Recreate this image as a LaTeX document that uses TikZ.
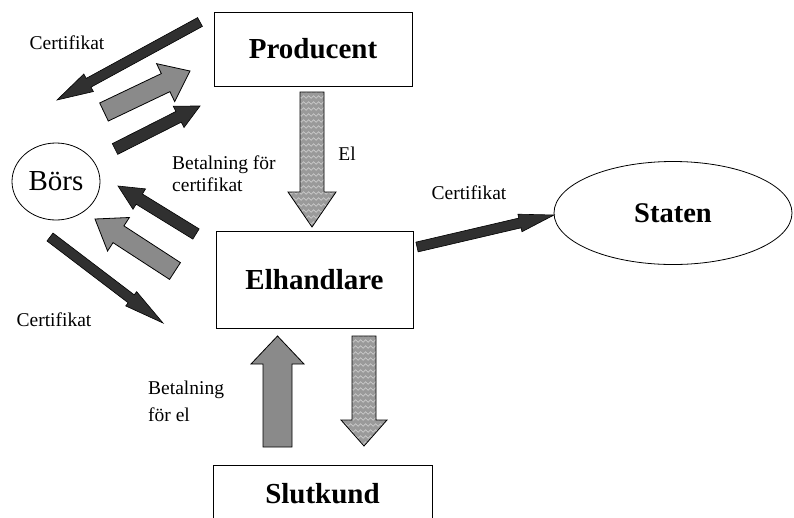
\documentclass[tikz,border=0pt]{standalone}
\usepackage{fontspec}
\setmainfont{Liberation Serif}
\usetikzlibrary{calc,decorations.pathmorphing,shapes.geometric}

\definecolor{darkarr}{HTML}{303030}
\definecolor{grayarr}{HTML}{8A8A8A}
\definecolor{wavebase}{HTML}{9A9A9A}
\definecolor{waveline}{HTML}{CACACA}

\tikzset{
  box/.style={draw, line width=1pt, rectangle, inner sep=0pt, font=\fontsize{29}{32}\selectfont\bfseries},
  ell/.style={draw, line width=0.8pt, ellipse, inner sep=0pt},
  lbl/.style={font=\fontsize{19.5}{22}\selectfont, inner sep=0pt, align=left},
  blackarr/.style={fill=darkarr, draw=black, line width=0.6pt},
  grayarr/.style={fill=grayarr, draw=black, line width=0.8pt},
  waveline/.style={draw=waveline, line width=0.7pt, decorate, decoration={snake, amplitude=1.3pt, segment length=5pt}},
}

% #1 style, #2 tail, #3 tip, #4 shaft half width, #5 head half width, #6 head length, #7 name of head base
\newcommand\blockarr[7]{%
  \coordinate (#7) at ($(#3)!#6!(#2)$);
  \path[#1] ($(#2)!#4!90:(#3)$) -- ($(#7)!#4!90:(#3)$) -- ($(#7)!#5!90:(#3)$) -- (#3)
    -- ($(#7)!#5!-90:(#3)$) -- ($(#7)!#4!-90:(#3)$) -- ($(#2)!#4!-90:(#3)$) -- cycle;
}
% wavy filled arrow: #1 tail, #2 tip, #3 shaft half, #4 head half, #5 head length, #6 name
\newcommand\wavearr[6]{%
  \coordinate (#6) at ($(#2)!#5!(#1)$);
  \begin{scope}
    \clip ($(#1)!#3!90:(#2)$) -- ($(#6)!#3!90:(#2)$) -- ($(#6)!#4!90:(#2)$) -- (#2)
      -- ($(#6)!#4!-90:(#2)$) -- ($(#6)!#3!-90:(#2)$) -- ($(#1)!#3!-90:(#2)$) -- cycle;
    \fill[wavebase] ($(#1)+(-40,-10)$) rectangle ($(#2)+(40,10)$);
    \foreach \k in {0,...,24}
      \draw[waveline] ($(#1)+(-40,\k*6-1)$) -- ($(#1)+(40,\k*6-1)$);
  \end{scope}
  \draw[line width=0.8pt] ($(#1)!#3!90:(#2)$) -- ($(#6)!#3!90:(#2)$) -- ($(#6)!#4!90:(#2)$) -- (#2)
      -- ($(#6)!#4!-90:(#2)$) -- ($(#6)!#3!-90:(#2)$) -- ($(#1)!#3!-90:(#2)$) -- cycle;
}

\begin{document}
\begin{tikzpicture}[x=1pt, y=-1pt]
\clip (0,0) rectangle (794,517);
\fill[white] (0,0) rectangle (794,517);

% nodes
\node[box, minimum width=198pt, minimum height=74pt] (prod) at (313,49) {Producent};
\node[box, minimum width=197pt, minimum height=97pt] (elh) at (314.5,280) {Elhandlare};
\node[box, minimum width=219pt, minimum height=58pt] (slut) at (322.5,494) {Slutkund};
\node[ell, minimum width=88pt, minimum height=77pt, font=\fontsize{29}{32}\selectfont] (bors) at (56,181.5) {Börs};
\node[ell, minimum width=238pt, minimum height=103pt, font=\fontsize{28.5}{32}\selectfont\bfseries] (staten) at (673,213) {Staten};

% arrow end points
\coordinate (a1t) at (200,22);   \coordinate (a1h) at (57,100);
\coordinate (a2t) at (104,112);  \coordinate (a2h) at (190,71);
\coordinate (a3t) at (115,149);  \coordinate (a3h) at (200,106);
\coordinate (a4t) at (196,234);  \coordinate (a4h) at (118,186);
\coordinate (a5t) at (175,271);  \coordinate (a5h) at (95,219);
\coordinate (a6t) at (50,237);   \coordinate (a6h) at (163,323);
\coordinate (a8t) at (417,247);  \coordinate (a8h) at (554,215);
\coordinate (a7t) at (312,92);   \coordinate (a7h) at (312,227);
\coordinate (a9t) at (277.5,447); \coordinate (a9h) at (277.5,336);
\coordinate (a10t) at (364,336); \coordinate (a10h) at (364,446);

% arrows
\blockarr{blackarr}{a1t}{a1h}{5pt}{10pt}{36pt}{a1b}
\blockarr{grayarr}{a2t}{a2h}{10pt}{21pt}{27pt}{a2b}
\blockarr{blackarr}{a3t}{a3h}{6pt}{12pt}{24pt}{a3b}
\blockarr{blackarr}{a4t}{a4h}{6pt}{12pt}{25pt}{a4b}
\blockarr{grayarr}{a5t}{a5h}{10pt}{20pt}{28pt}{a5b}
\blockarr{blackarr}{a6t}{a6h}{5pt}{9pt}{40pt}{a6b}
\blockarr{blackarr}{a8t}{a8h}{5pt}{9pt}{35pt}{a8b}
\wavearr{a7t}{a7h}{12pt}{24pt}{35pt}{a7b}
\blockarr{grayarr}{a9t}{a9h}{14.5pt}{26.5pt}{28pt}{a9b}
\wavearr{a10t}{a10h}{12pt}{23pt}{26pt}{a10b}

% labels
\node[lbl] (l1) at (67,43) {Certifikat};
\node[lbl] (l2) at (347,154) {El};
\node[lbl, anchor=west] (l3) at (172,174) {Betalning för\\certifikat};
\node[lbl] (l4) at (54,320) {Certifikat};
\node[lbl] (l5) at (469,193) {Certifikat};
\node[lbl, anchor=west, font=\fontsize{19.5}{27}\selectfont] (l6) at (148,401) {Betalning\\för el};
\end{tikzpicture}
\end{document}
